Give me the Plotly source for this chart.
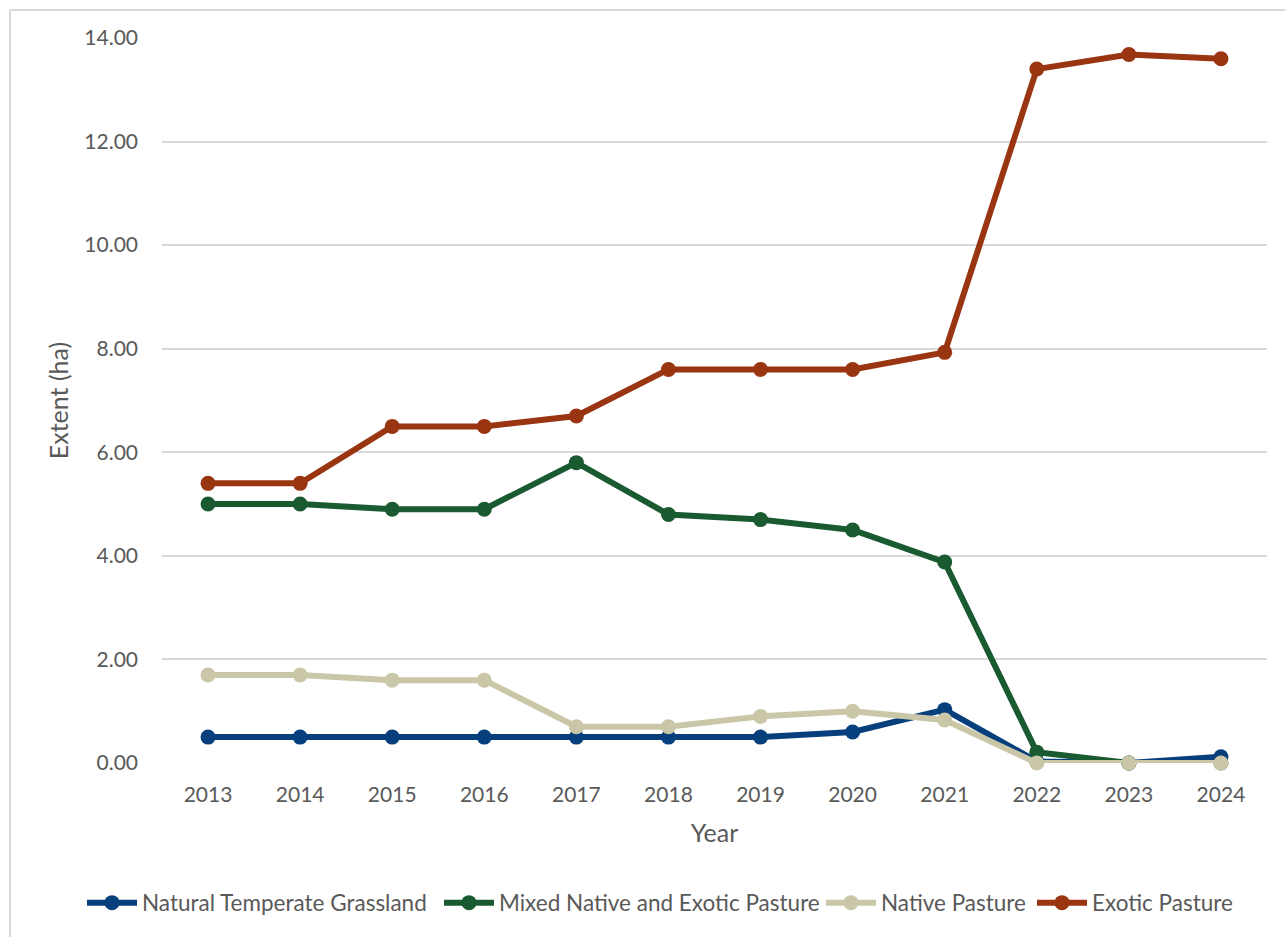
import plotly.graph_objects as go

years = ["2013", "2014", "2015", "2016", "2017", "2018", "2019", "2020", "2021", "2022", "2023", "2024"]
natural_temperate_grassland = [0.5, 0.5, 0.5, 0.5, 0.5, 0.5, 0.5, 0.6, 1.03, 0.03, 0.0, 0.12]
mixed_native_exotic = [5.0, 5.0, 4.9, 4.9, 5.8, 4.8, 4.7, 4.5, 3.88, 0.21, 0.0, 0.0]
native_pasture = [1.7, 1.7, 1.6, 1.6, 0.7, 0.7, 0.9, 1.0, 0.83, 0.0, 0.0, 0.0]
exotic_pasture = [5.4, 5.4, 6.5, 6.5, 6.7, 7.6, 7.6, 7.6, 7.93, 13.4, 13.68, 13.6]
y_ticks = [0, 2, 4, 6, 8, 10, 12, 14]

series = [
    ("Natural Temperate Grassland", natural_temperate_grassland, "#063f7c"),
    ("Mixed Native and Exotic Pasture", mixed_native_exotic, "#1a5a30"),
    ("Native Pasture", native_pasture, "#c9c7a8"),
    ("Exotic Pasture", exotic_pasture, "#9a3512"),
]
# left pixel of each legend entry box
legend_left_px = [82, 439, 821, 1032]

FONT = "Lato"
GRAY = "#595959"

W, H = 1285, 937
L, R, T, B = 162, 18, 38, 174
pw, ph = W - L - R, H - T - B

def px_x(p):
    return (p - L) / pw

def px_y(p):
    return (H - B - p) / ph

fig = go.Figure()
legend_layouts = {}
for i, (name, vals, col) in enumerate(series):
    key = "legend" if i == 0 else f"legend{i + 1}"
    fig.add_trace(go.Scatter(
        x=years, y=vals, name=name, mode="lines+markers",
        line=dict(color=col, width=6),
        marker=dict(color=col, size=15),
        cliponaxis=False, legend=key,
    ))
    legend_layouts[key] = dict(
        orientation="h", xref="container", yref="container",
        x=legend_left_px[i] / W, xanchor="left",
        y=1 - 903 / H, yanchor="middle",
        font=dict(family=FONT, size=22.5, color=GRAY),
        itemwidth=50, bgcolor="rgba(0,0,0,0)",
    )

fig.update_layout(
    width=W, height=H,
    margin=dict(l=L, r=R, t=T, b=B, autoexpand=False),
    paper_bgcolor="white", plot_bgcolor="white",
    font=dict(family=FONT, size=21, color=GRAY),
    showlegend=True,
    **legend_layouts,
    xaxis=dict(
        type="category", range=[-0.5, len(years) - 0.5],
        showgrid=False, showline=False, zeroline=False,
        ticks="", ticklabelstandoff=17,
        title=dict(text="Year", standoff=19, font=dict(family=FONT, size=25, color=GRAY)),
        tickfont=dict(family=FONT, size=21, color=GRAY),
    ),
    yaxis=dict(
        range=[0, 14], tickvals=y_ticks, ticktext=[f"{v:.2f}" for v in y_ticks],
        showgrid=True, gridcolor="#d9d9d9", gridwidth=2,
        zeroline=False, showline=False, ticks="", ticklabelstandoff=23,
        title=dict(text="Extent (ha)", standoff=8, font=dict(family=FONT, size=25, color=GRAY)),
        tickfont=dict(family=FONT, size=21, color=GRAY),
    ),
    shapes=[
        dict(type="line", xref="paper", yref="paper",
             x0=px_x(10), x1=px_x(1290), y0=px_y(10), y1=px_y(10),
             line=dict(color="#d9d9d9", width=2)),
        dict(type="line", xref="paper", yref="paper",
             x0=px_x(10), x1=px_x(10), y0=px_y(10), y1=px_y(940),
             line=dict(color="#d9d9d9", width=2)),
    ],
)

fig.write_html("out.html")
